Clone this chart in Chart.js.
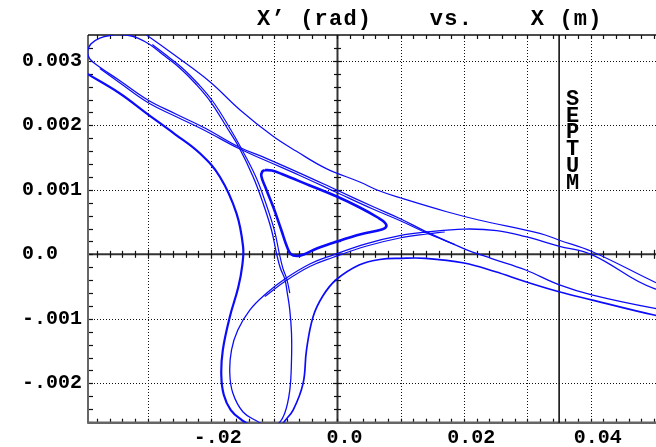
<!DOCTYPE html>
<html>
<head>
<meta charset="utf-8">
<script src="https://cdn.jsdelivr.net/npm/chart.js@4"></script>
<style>
html,body{margin:0;padding:0;background:#fff;}
#wrap{width:656px;height:447px;}
</style>
</head>
<body>
<div id="wrap"><canvas id="c" width="656" height="447"></canvas></div>
<script>
// Horizontal phase space X' (rad) vs X (m) near a third-integer resonance.

const titleText = "X\u2019 (rad)    vs.    X (m)";
const septumLabel = "SEPTUM";
const septumX = 0.035;

const xTickValues = [-0.02, 0.0, 0.02, 0.04];
const xTickLabels = ["-.02", "0.0", "0.02", "0.04"];
const yTickValues = [0.003, 0.002, 0.001, 0.0, -0.001, -0.002];
const yTickLabels = ["0.003", "0.002", "0.001", "0.0", "-.001", "-.002"];
const xGridValues = [-0.03, -0.02, -0.01, 0.01, 0.02, 0.03, 0.04];
const yGridValues = [0.003, 0.002, 0.001, -0.001, -0.002];

// Stable orbit inside the separatrix triangle
const innerOrbit = [
  [-0.01148,0.001307],[-0.01037,0.001299],[-0.008795,0.001245],[-0.004374,0.001067],
  [-0.000111,0.000896],[0.003521,0.000726],[0.006363,0.000571],[0.007468,0.000493],
  [0.007705,0.000431],[0.006995,0.000384],[0.003837,0.000315],[-0.000111,0.000198],
  [-0.003268,0.0000899],[-0.005321,-0.0000031],[-0.006426,-0.0000264],[-0.007374,0.0000047],
  [-0.007926,0.000105],[-0.008874,0.000377],[-0.01014,0.000733],[-0.0114,0.001043],
  [-0.01203,0.001214],[-0.01187,0.001284],[-0.01148,0.001307]
];

// Orbit along the separatrix: three unstable fixed points and their lobes
const separatrixOrbit = [
  [-0.03501,0.003408],[-0.03753,0.003353],[-0.03895,0.00326],[-0.03947,0.003136],
  [-0.03911,0.003028],[-0.03769,0.002912],[-0.03453,0.002702],[-0.02995,0.002392],
  [-0.02553,0.002175],[-0.02095,0.001958],[-0.01558,0.001664],
  [-0.01116,0.001485],[-0.005953,0.00126],[-0.000111,0.000997],[0.005574,0.000741],
  [0.009837,0.000555],[0.0141,0.000346],
  [0.01994,0.0000899],[0.02436,-0.0000651],[0.02973,-0.000243],[0.03494,-0.000468],
  [0.04031,-0.000631],[0.04994,-0.000833],[0.05721,-0.000941],
  [0.0651,-0.000988],[0.06905,-0.000786],[0.06352,-0.000616],[0.05721,-0.000584],
  [0.04994,-0.000527],[0.04031,-0.0000109],[0.03494,0.000129],[0.02973,0.000273],
  [0.02515,0.000369],[0.01994,0.000392],[0.0141,0.000346],
  [0.009837,0.000291],[0.004626,0.000167],[-0.000742,-0.0000109],[-0.004374,-0.00015],
  [-0.00832,-0.000383],
  [-0.01116,-0.0006],[-0.01385,-0.000864],[-0.01574,-0.001174],[-0.01674,-0.001484],
  [-0.01701,-0.00184],[-0.01653,-0.00215],[-0.01495,-0.00244],[-0.01274,-0.002584],
  [-0.01101,-0.002662],
  [-0.009426,-0.002631],[-0.00832,-0.00246],[-0.007532,-0.002104],[-0.007263,-0.001639],
  [-0.007263,-0.00122],[-0.007532,-0.000864],[-0.007926,-0.0006],[-0.00832,-0.000383],
  [-0.009032,-0.000212],[-0.009632,0.0000155],[-0.01042,0.000377],[-0.01175,0.000791],
  [-0.01333,0.001203],[-0.01558,0.001664],
  [-0.01732,0.001943],[-0.02001,0.002361],[-0.02237,0.00264],[-0.0249,0.002888],
  [-0.02727,0.003074],[-0.02964,0.003253],[-0.03153,0.003353],[-0.03327,0.0034],
  [-0.03501,0.003408]
];

// Second pass of the near-separatrix particle along each side of the triangle
const strandSide1 = [
  [-0.03753,0.002881],[-0.03445,0.002664],[-0.02995,0.002353],[-0.02553,0.002136],
  [-0.02095,0.001919],[-0.01558,0.00164],[-0.01116,0.001447],[-0.005953,0.001222],
  [-0.000111,0.000958],[0.005574,0.000702],[0.009837,0.000524],[0.0141,0.00033],
  [0.01852,0.000152]
];
const strandSide2 = [
  [-0.02924,0.003253],[-0.02687,0.003074],[-0.02451,0.002888],[-0.02198,0.00264],
  [-0.01961,0.002361],[-0.01693,0.001943],[-0.01527,0.001656],[-0.0129,0.001203],
  [-0.01132,0.000791],[-0.009979,0.000377],[-0.009189,0.0000155],[-0.008637,-0.000212],
  [-0.008005,-0.000383],[-0.007532,-0.0006]
];
const strandSide3 = [
  [-0.01148,-0.000654],[-0.00832,-0.000422],[-0.004374,-0.000189],[-0.000742,-0.0000496],
  [0.004626,0.000129],[0.009837,0.000253],[0.0141,0.000315],[0.01694,0.000346]
];

// Large orbit outside the separatrix, in three visible arcs
const outerArcTop = [
  [-0.0328,0.003571],[-0.03016,0.0034],[-0.02553,0.003074],[-0.02016,0.002676],
  [-0.01543,0.002242],[-0.01017,0.001829],[-0.006474,0.001597],[-0.001847,0.001333],
  [0.003521,0.001121],[0.006679,0.000981],[0.009995,0.000873],[0.01726,0.00066],
  [0.02231,0.000532],[0.03194,0.000326],[0.03494,0.000222],[0.04026,0.0000403],
  [0.04999,-0.000425],[0.05405,-0.0006]
];
const outerArcLeft = [
  [-0.04148,0.002919],[-0.03974,0.002811],[-0.03448,0.002501],[-0.03016,0.002186],
  [-0.02569,0.001865],[-0.02174,0.001566],[-0.01858,0.001203],[-0.01595,0.000636],
  [-0.01491,0.000118],[-0.01503,-0.000166],[-0.01566,-0.000507],[-0.01701,-0.000972],
  [-0.01811,-0.001484],[-0.01835,-0.001871],[-0.01795,-0.002181],[-0.01685,-0.002414],
  [-0.01511,-0.002569],[-0.01322,-0.002678]
];
const outerArcRight = [
  [-0.00911,-0.002755],[-0.00859,-0.00262],[-0.00701,-0.002414],[-0.005432,-0.002],
  [-0.004895,-0.001484],[-0.003853,-0.000967],[-0.002321,-0.000647],[-0.000268,-0.000398],
  [0.003411,-0.000166],[0.006679,-0.0000806],[0.009995,-0.000062],[0.01394,-0.000062],
  [0.01999,-0.000135],[0.02484,-0.000267],[0.02973,-0.000425],[0.03499,-0.00058],
  [0.04026,-0.000709],[0.04999,-0.000941],[0.05563,-0.00105]
];

const BLUE = "rgb(12,12,250)";
const FONT = "'Liberation Mono', 'Courier New', monospace";

function toPoints(arr) { return arr.map(p => ({x: p[0], y: p[1]})); }
function orbit(arr, width, color) {
  return {
    data: toPoints(arr), showLine: true, borderColor: color || BLUE, borderWidth: width,
    pointRadius: 0, pointHoverRadius: 0, tension: 0.4, fill: false
  };
}

// Frame, dotted grid, zero axes with ticks and the septum
const framePlugin = {
  id: "frame",
  beforeDatasetsDraw(chart) {
    const {ctx, chartArea: a, scales: {x, y}} = chart;
    ctx.save();
    ctx.lineWidth = 1;
    ctx.strokeStyle = "#111";
    ctx.setLineDash([1, 2]);
    xGridValues.forEach(v => {
      const px = Math.round(x.getPixelForValue(v)) + 0.5;
      ctx.beginPath(); ctx.moveTo(px, a.top); ctx.lineTo(px, a.bottom); ctx.stroke();
    });
    yGridValues.forEach(v => {
      const py = Math.round(y.getPixelForValue(v)) + 0.5;
      ctx.beginPath(); ctx.moveTo(a.left, py); ctx.lineTo(a.right, py); ctx.stroke();
    });
    ctx.setLineDash([]);

    const x0 = x.getPixelForValue(0), y0 = y.getPixelForValue(0);
    // zero axes
    ctx.strokeStyle = "#333";
    ctx.lineWidth = 2;
    ctx.beginPath(); ctx.moveTo(x0, a.top); ctx.lineTo(x0, a.bottom); ctx.stroke();
    ctx.beginPath(); ctx.moveTo(a.left, y0); ctx.lineTo(a.right, y0); ctx.stroke();

    ctx.lineWidth = 1.2;
    ctx.strokeStyle = "#111";
    // minor ticks along x every 0.002
    for (let k = -20; k <= 25; k++) {
      const v = k * 0.002;
      if (v < x.min || v > x.max) continue;
      const px = Math.round(x.getPixelForValue(v)) + 0.5;
      const major = (k % 5 === 0);
      const h = major ? 4.5 : 3.5;
      ctx.beginPath(); ctx.moveTo(px, y0 - h); ctx.lineTo(px, y0 + h); ctx.stroke();
      ctx.beginPath(); ctx.moveTo(px, a.top); ctx.lineTo(px, a.top + 4); ctx.stroke();
      ctx.beginPath(); ctx.moveTo(px, a.bottom); ctx.lineTo(px, a.bottom - 4); ctx.stroke();
    }
    // minor ticks along y every 0.0002
    for (let k = -14; k <= 17; k++) {
      const v = k * 0.0002;
      if (v < y.min || v > y.max) continue;
      const py = Math.round(y.getPixelForValue(v)) + 0.5;
      const major = (k % 5 === 0);
      const h = major ? 4.5 : 3.5;
      ctx.beginPath(); ctx.moveTo(x0 - h, py); ctx.lineTo(x0 + h, py); ctx.stroke();
      ctx.beginPath(); ctx.moveTo(a.left, py); ctx.lineTo(a.left + 5, py); ctx.stroke();
    }

    // plot frame
    ctx.strokeStyle = "#666";
    ctx.lineWidth = 2;
    ctx.beginPath(); ctx.moveTo(a.left, a.top); ctx.lineTo(a.left, a.bottom + 1); ctx.stroke();
    ctx.lineWidth = 2.5;
    ctx.beginPath(); ctx.moveTo(a.left, a.bottom); ctx.lineTo(a.right, a.bottom); ctx.stroke();
    ctx.strokeStyle = "#111";
    ctx.lineWidth = 1.5;
    ctx.beginPath(); ctx.moveTo(a.left, a.top); ctx.lineTo(a.right, a.top); ctx.stroke();

    // septum
    const sx = x.getPixelForValue(septumX);
    ctx.strokeStyle = "#000";
    ctx.lineWidth = 1.5;
    ctx.beginPath(); ctx.moveTo(sx, a.top); ctx.lineTo(sx, a.bottom); ctx.stroke();
    ctx.fillStyle = "#000";
    ctx.font = "bold 22px " + FONT;
    ctx.textAlign = "center";
    ctx.textBaseline = "alphabetic";
    [...septumLabel].forEach((ch, i) => ctx.fillText(ch, sx + 13.5, 105 + i * 16.7));
    ctx.restore();
  },
  afterDraw(chart) {
    const ctx = chart.ctx;
    ctx.save();
    ctx.fillStyle = "#000";
    ctx.font = "bold 22px " + FONT;
    if ("letterSpacing" in ctx) ctx.letterSpacing = "1.2px";
    ctx.textAlign = "left";
    ctx.textBaseline = "alphabetic";
    ctx.fillText(titleText, 257, 25);
    ctx.restore();
  }
};

new Chart(document.getElementById("c"), {
  type: "scatter",
  data: {
    datasets: [
      orbit(outerArcTop, 1.2),
      orbit(outerArcLeft, 2.2),
      orbit(outerArcRight, 1.7),
      orbit(separatrixOrbit, 1.3),
      orbit(strandSide1, 1.2),
      orbit(strandSide2, 1.2),
      orbit(strandSide3, 1.2),
      orbit(innerOrbit, 2.6)
    ]
  },
  options: {
    responsive: false,
    animation: false,
    events: [],
    layout: {padding: {top: 35, right: 0, left: 22, bottom: 0}},
    plugins: {legend: {display: false}, tooltip: {enabled: false}, title: {display: false}},
    scales: {
      x: {
        type: "linear", bounds: "data", min: -0.0394, max: 0.0503,
        grid: {display: false, drawTicks: false}, border: {display: false},
        afterBuildTicks: s => { s.ticks = xTickValues.map(v => ({value: v})); },
        afterFit: s => { s.height = 24.3; },
        ticks: {
          padding: 3, labelOffset: 7, color: "#000", maxRotation: 0, autoSkip: false,
          font: {family: FONT, size: 20, weight: "bold"},
          callback: v => xTickLabels[xTickValues.findIndex(t => Math.abs(t - v) < 1e-9)]
        }
      },
      y: {
        type: "linear", bounds: "data", min: -0.00261, max: 0.0034,
        grid: {display: false, drawTicks: false}, border: {display: false},
        afterBuildTicks: s => { s.ticks = yTickValues.map(v => ({value: v})); },
        afterFit: s => { s.width = 66; },
        ticks: {
          padding: 8, crossAlign: "far", color: "#000", autoSkip: false,
          font: {family: FONT, size: 20, weight: "bold"},
          callback: v => yTickLabels[yTickValues.findIndex(t => Math.abs(t - v) < 1e-9)]
        }
      }
    }
  },
  plugins: [framePlugin]
});
</script>
</body>
</html>
